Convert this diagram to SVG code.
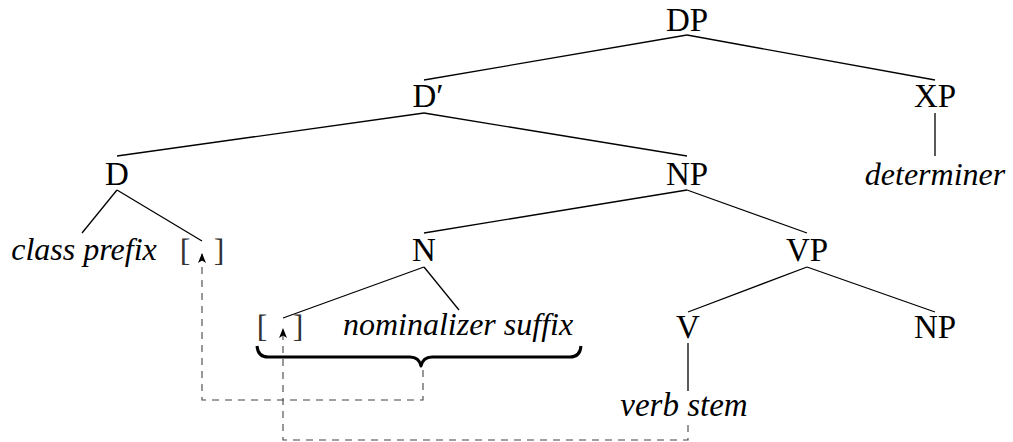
<svg xmlns="http://www.w3.org/2000/svg" width="1013" height="442" viewBox="0 0 1013 442">
<style>
text{font-family:"Liberation Serif","Times New Roman",serif;fill:#000}
.n{font-size:33px;text-anchor:middle}
.i{font-size:32px;font-style:italic;text-anchor:middle}
.b{font-size:32px;text-anchor:middle;fill:#333}
.e{stroke:#000;stroke-width:1.3;fill:none}
.d{stroke:#444;stroke-width:1.1;fill:none;stroke-dasharray:7 6}
.br{stroke:#000;stroke-width:3;fill:none;stroke-linejoin:round}
</style>
<defs>
<marker id="ah" viewBox="0 0 10 8" refX="10" refY="4" markerWidth="10" markerHeight="8" markerUnits="userSpaceOnUse" orient="auto">
<path d="M0,0 L10,4 L0,8 L2.5,4 z" fill="#000"/>
</marker>
</defs>
<rect width="1013" height="442" fill="#fff"/>
<g id="connectors">
<path class="e" d="M687,35 L424,80"/>
<path class="e" d="M687,35 L935,80"/>
<path class="e" d="M424,113 L117,156"/>
<path class="e" d="M424,113 L687,156"/>
<path class="e" d="M935,113 L935,156"/>
<path class="e" d="M117,190 L82,233"/>
<path class="e" d="M117,190 L202,241"/>
<path class="e" d="M687,190 L424,233"/>
<path class="e" d="M687,190 L807,233"/>
<path class="e" d="M424,267 L283,318"/>
<path class="e" d="M424,267 L459,310"/>
<path class="e" d="M807,267 L688,312"/>
<path class="e" d="M807,267 L935,312"/>
<path class="e" d="M688,343 L688,391"/>
<path class="br" d="M257,346 Q258,357 268,357 L410,357 Q419,357 421,366 Q423,357 432,357 L570,357 Q580,357 581,346"/>
<path class="d" d="M423,370 L423,400 L202,400 L202,253" marker-end="url(#ah)"/>
<path class="d" d="M688,425 L688,440 L283,440 L283,328" marker-end="url(#ah)"/>
</g>
<g id="DP"><text class="n" x="687" y="31">DP</text></g>
<g id="Dbar"><text class="n" x="428" y="107">D′</text></g>
<g id="XP"><text class="n" x="935" y="107">XP</text></g>
<g id="D"><text class="n" x="117" y="185">D</text></g>
<g id="NP1"><text class="n" x="687" y="185">NP</text></g>
<g id="determiner"><text class="i" x="935" y="185">determiner</text></g>
<g id="classprefix"><text class="i" x="84" y="260">class prefix</text></g>
<g id="slot1"><text class="b" x="185" y="261">[</text><text class="b" x="219" y="261">]</text></g>
<g id="N"><text class="n" x="424" y="261">N</text></g>
<g id="VP"><text class="n" x="807" y="261">VP</text></g>
<g id="slot2"><text class="b" x="262" y="337">[</text><text class="b" x="298" y="337">]</text></g>
<g id="nominalizer"><text class="i" x="458" y="335">nominalizer suffix</text></g>
<g id="V"><text class="n" x="688" y="338">V</text></g>
<g id="NP2"><text class="n" x="935" y="338">NP</text></g>
<g id="verbstem"><text class="i" x="684" y="416" style="font-size:33px">verb stem</text></g>
</svg>
